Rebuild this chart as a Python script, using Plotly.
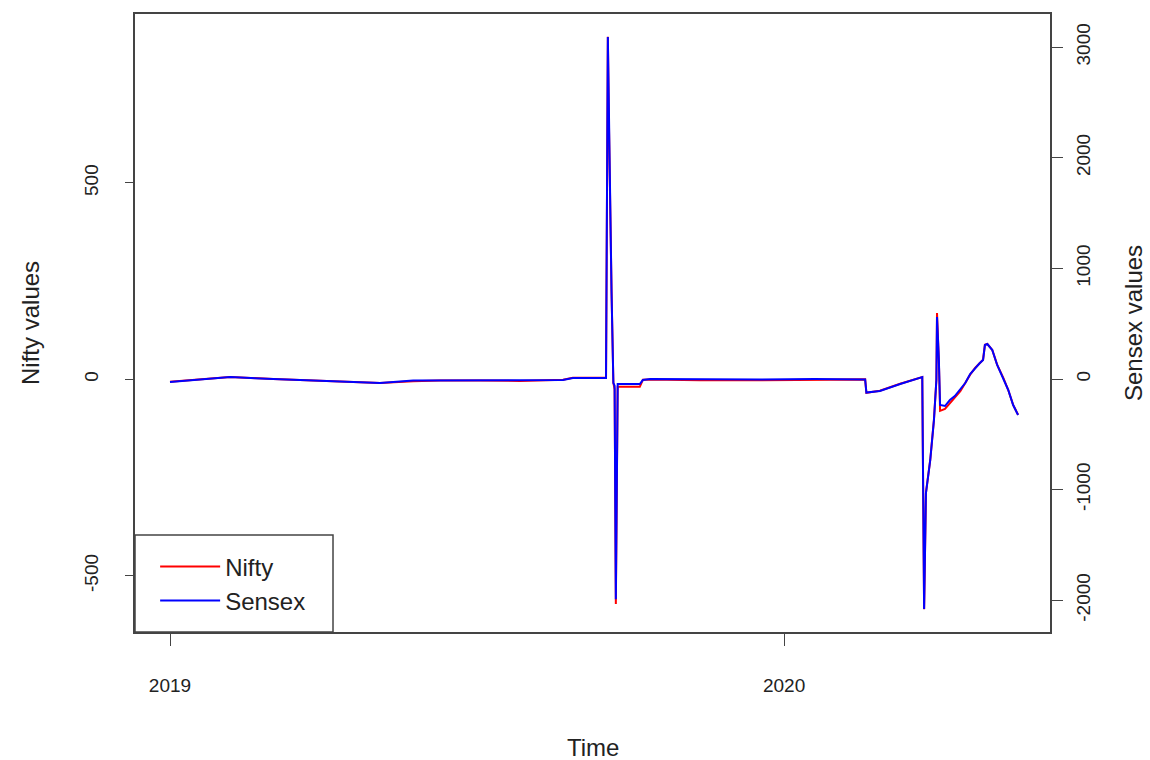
import plotly.graph_objects as go

time = [2019.000, 2019.049, 2019.098, 2019.168, 2019.228, 2019.293, 2019.342, 2019.396, 2019.440,
        2019.505, 2019.570, 2019.640, 2019.656, 2019.710, 2019.713, 2019.715, 2019.717, 2019.719,
        2019.722, 2019.724, 2019.726, 2019.729, 2019.765, 2019.770, 2019.782, 2019.863, 2019.961,
        2020.050, 2020.132, 2020.134, 2020.156, 2020.189, 2020.225, 2020.228, 2020.231, 2020.238,
        2020.244, 2020.248, 2020.249, 2020.252, 2020.254, 2020.262, 2020.270, 2020.278, 2020.287,
        2020.295, 2020.303, 2020.311, 2020.318, 2020.324, 2020.327, 2020.331, 2020.339, 2020.347,
        2020.357, 2020.365, 2020.373, 2020.381]

nifty = [-6, 0, 6, 1, -3, -6, -9, -5, -3,
         -3, -4, -1, 4, 4, 872, 628, 401, 223,
         -9, -25, -572, -19, -19, -1, 0, -2, -2,
         0, 0, -34, -29, -11, 6, -585, -289, -205,
         -103, -1, 169, 50, -80, -75, -60, -47, -30,
         -9, 12, 29, 40, 50, 88, 90, 75, 37,
         4, -27, -65, -90]

sensex = [-27, -5, 18, 0, -14, -27, -36, -14, -14,
          -14, -9, -9, 9, 9, 3093, 2233, 1420, 786,
          -36, -60, -1990, -45, -45, -9, 0, -5, -5,
          0, -5, -122, -108, -45, 18, -2080, -1031, -732,
          -371, -9, 561, 180, -235, -244, -190, -154, -95,
          -36, 45, 99, 140, 172, 307, 316, 262, 127,
          9, -99, -235, -325]

x_ticks = [2019, 2020]
x_ticktext = ["2019", "2020"]
nifty_ticks = [-500, 0, 500]
nifty_ticktext = ["-500", "0", "500"]
sensex_ticks = [-2000, -1000, 0, 1000, 2000, 3000]
sensex_ticktext = ["-2000", "-1000", "0", "1000", "2000", "3000"]

FONT = "Liberation Sans, Arial, sans-serif"
BOX = "#444444"
TXT = "#222222"

fig = go.Figure()
fig.add_trace(go.Scatter(x=time, y=nifty, name="Nifty", mode="lines",
                         line=dict(color="red", width=2)))
fig.add_trace(go.Scatter(x=time, y=sensex, name="Sensex", mode="lines", yaxis="y2",
                         line=dict(color="blue", width=2)))

title_font = dict(size=24, family=FONT, color=TXT)

fig.update_layout(
    width=1150, height=760,
    margin=dict(l=135, r=100, t=14, b=128, autoexpand=False),
    paper_bgcolor="white", plot_bgcolor="white",
    font=dict(family=FONT, color=TXT),
    showlegend=True,
    legend=dict(x=0.022, y=0.078, xanchor="left", yanchor="middle",
                borderwidth=0, bgcolor="rgba(0,0,0,0)",
                font=dict(size=24, family=FONT, color=TXT),
                itemwidth=60, tracegroupgap=0),
    shapes=[dict(type="rect", xref="paper", yref="paper",
                 x0=0, x1=0.2164, y0=0, y1=0.157,
                 line=dict(color=BOX, width=1.5), fillcolor="white", layer="below")],
    annotations=[
        dict(text="Time", xref="paper", yref="paper", x=0.5, y=-0.1877,
             xanchor="center", yanchor="middle", showarrow=False, font=title_font),
        dict(text="Nifty values", xref="paper", yref="paper", x=-0.1148, y=0.5,
             xanchor="center", yanchor="middle", textangle=-90, showarrow=False, font=title_font),
        dict(text="Sensex values", xref="paper", yref="paper", x=1.0907, y=0.5,
             xanchor="center", yanchor="middle", textangle=-90, showarrow=False, font=title_font),
    ],
    xaxis=dict(range=[2018.943, 2020.433], tickvals=x_ticks, ticktext=x_ticktext,
               ticks="outside", ticklen=12, tickcolor=BOX, tickwidth=1,
               showline=True, linecolor=BOX, linewidth=1.5, mirror=True,
               showgrid=False, zeroline=False, automargin=False,
               tickfont=dict(size=19, family=FONT, color=TXT),
               ticklabelstandoff=23),
    yaxis=dict(range=[-643, 930], tickvals=nifty_ticks, ticktext=nifty_ticktext, tickangle=-90,
               ticks="outside", ticklen=8, tickcolor=BOX,
               showline=True, linecolor=BOX, linewidth=1.5, mirror=True,
               showgrid=False, zeroline=False, automargin=False,
               tickfont=dict(size=19, family=FONT, color=TXT),
               ticklabelstandoff=20),
    yaxis2=dict(range=[-2287, 3300], tickvals=sensex_ticks, ticktext=sensex_ticktext, tickangle=-90,
                overlaying="y", side="right",
                ticks="outside", ticklen=12, tickcolor=BOX,
                showline=False, showgrid=False, zeroline=False, automargin=False,
                tickfont=dict(size=19, family=FONT, color=TXT),
                ticklabelstandoff=4),
)

fig.write_html("out.html", config={"displayModeBar": False},
               post_script="document.body.style.margin='0';")
